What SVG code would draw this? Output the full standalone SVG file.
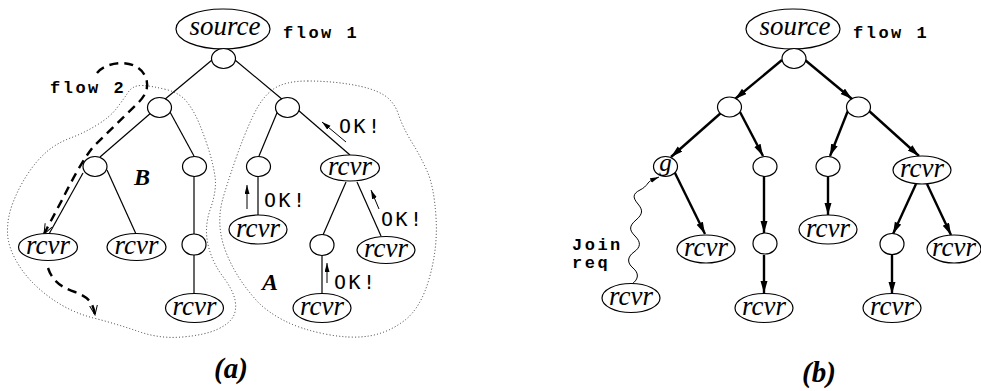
<svg xmlns="http://www.w3.org/2000/svg" width="981" height="391" viewBox="0 0 981 391">
  <style>
    .edge { stroke: #000; stroke-width: 1.2; fill: none; }
    .flow { stroke: #000; stroke-width: 2.4; fill: none; marker-end: url(#tipB); }
    .ok { stroke: #000; stroke-width: 1; fill: none; marker-end: url(#tipOk); }
    .region { stroke: #333; stroke-width: 1; stroke-dasharray: 1 2.2; fill: none; }
    .path2 { stroke: #000; stroke-width: 2.4; stroke-dasharray: 9 6; fill: none; }
    .wave { stroke: #000; stroke-width: 1; fill: none; marker-end: url(#tipOk); }
    .node { fill: #fff; stroke: #000; stroke-width: 1.2; }
    .it { font-family: "Liberation Serif", "Times New Roman", "DejaVu Serif", serif; font-style: italic; font-size: 27px; text-anchor: middle; fill: #000; }
    .mono { font-family: "Liberation Mono", "Courier New", monospace; font-weight: bold; font-size: 17px; letter-spacing: 2.5px; fill: #000; }
    .oktxt { font-family: "DejaVu Sans Mono", monospace; font-size: 20px; letter-spacing: 2.5px; fill: #000; }
    .big { font-family: "Liberation Serif", "Times New Roman", "DejaVu Serif", serif; font-style: italic; font-weight: bold; font-size: 24px; fill: #000; }
    .cap { font-size: 29px; text-anchor: middle; }
  </style>
  <defs>
    <marker id="tipB" markerUnits="userSpaceOnUse" markerWidth="13" markerHeight="8" refX="12" refY="3.5" orient="auto">
      <path d="M0,0 L12,3.5 L0,7 Z" fill="#000"/>
    </marker>
    <marker id="tipOk" markerUnits="userSpaceOnUse" markerWidth="10" markerHeight="6" refX="9" refY="2.5" orient="auto">
      <path d="M0,0 L9,2.5 L0,5 Z" fill="#000"/>
    </marker>
    <marker id="tipDash" markerUnits="userSpaceOnUse" markerWidth="11" markerHeight="9" refX="10" refY="4" orient="auto">
      <path d="M0,0 L10,4 L0,8" fill="none" stroke="#000" stroke-width="1"/>
    </marker>
  </defs>

  <!-- (a): regions A and B -->
  <g id="regions">
    <path class="region" d="M307.5,81 Q330,81 351,84.5 Q372,88 383,94.5 Q394,101 398.5,114.5 Q403,128 412,142.5 Q421,157 427.5,172 Q434,187 436,217 Q438,247 429.5,277.5 Q421,308 404.5,320.5 Q388,333 369,336 Q350,339 325,334 Q300,329 283,320 Q266,311 256.5,300.5 Q247,290 239.5,278.5 Q232,267 226.5,253.5 Q221,240 220,226.5 Q219,213 222.5,200 Q226,187 235,161 Q244,135 253,116 Q262,97 273.5,89 Q285,81 307.5,81 Z"/>
    <path class="region" d="M142.5,85.5 Q152,86 166,89.5 Q180,93 187,102 Q194,111 199,123 Q204,135 208.5,149 Q213,163 215,176.5 Q217,190 210.5,208.5 Q204,227 208,244.5 Q212,262 222.5,276 Q233,290 235,300 Q237,310 233,317 Q229,324 217,329.5 Q205,335 182.5,337 Q160,339 138.5,331.5 Q117,324 93.5,318 Q70,312 50,297.5 Q30,283 19,265.5 Q8,248 7.5,233 Q7,218 13,202.5 Q19,187 28,173.5 Q37,160 47,151.5 Q57,143 70.5,138 Q84,133 97,125 Q110,117 116.5,108.5 Q123,100 128,92.5 Q133,85 142.5,85.5 Z"/>
  </g>

  <!-- connectors -->
  <g id="connectors">
    <!-- tree (a) -->
    <line class="edge" x1="212" y1="60" x2="164" y2="100"/>
    <line class="edge" x1="235" y1="60" x2="283" y2="100"/>
    <line class="edge" x1="152" y1="112" x2="100" y2="157"/>
    <line class="edge" x1="170" y1="112" x2="194" y2="156"/>
    <line class="edge" x1="279" y1="108" x2="259" y2="156"/>
    <line class="edge" x1="298" y1="110" x2="350" y2="155"/>
    <line class="edge" x1="83" y1="173" x2="49" y2="234"/>
    <line class="edge" x1="107" y1="170" x2="136" y2="234"/>
    <line class="edge" x1="194" y1="176" x2="194" y2="234"/>
    <line class="edge" x1="194" y1="255" x2="194" y2="294"/>
    <line class="edge" x1="258" y1="176" x2="258" y2="215"/>
    <line class="edge" x1="346" y1="182" x2="323" y2="235"/>
    <line class="edge" x1="357" y1="182" x2="381" y2="236"/>
    <line class="edge" x1="322" y1="255" x2="322" y2="294"/>

    <!-- OK! acknowledgements -->
    <line class="ok" x1="346" y1="142" x2="322" y2="122"/>
    <line class="ok" x1="247" y1="209" x2="247" y2="185"/>
    <line class="ok" x1="379" y1="209" x2="371" y2="190"/>
    <line class="ok" x1="327" y1="283" x2="327" y2="263"/>

    <!-- flow 2 -->
    <path class="path2" marker-end="url(#tipDash)" d="M97,73 C106,61 138,57 146,78 C150,90 143,98 137,104 L93,147 C84,158 72,180 62,200 L44,234"/>
    <path class="path2" marker-end="url(#tipDash)" d="M48,268 C52,280 60,287 75,292 C88,297 93,302 95,315"/>

    <!-- tree (b) -->
    <line class="flow" x1="782" y1="60" x2="735" y2="99"/>
    <line class="flow" x1="805" y1="60" x2="852" y2="99"/>
    <line class="flow" x1="722" y1="112" x2="671" y2="157"/>
    <line class="flow" x1="740" y1="112" x2="763" y2="156"/>
    <line class="flow" x1="849" y1="108" x2="830" y2="156"/>
    <line class="flow" x1="868" y1="110" x2="919" y2="156"/>
    <line class="flow" x1="674" y1="171" x2="705" y2="234"/>
    <line class="flow" x1="764" y1="176" x2="764" y2="233"/>
    <line class="flow" x1="764" y1="255" x2="764" y2="293"/>
    <line class="flow" x1="828" y1="176" x2="828" y2="215"/>
    <line class="flow" x1="916" y1="184" x2="893" y2="234"/>
    <line class="flow" x1="927" y1="184" x2="951" y2="235"/>
    <line class="flow" x1="892" y1="255" x2="892" y2="294"/>

    <!-- join request -->
    <path class="wave" d="M632,284 C639,279 639,273 633,268 S627,257 634,252 S641,242 635,236 S629,226 636,220 S643,210 638,204 S632,194 640,190 S647,182 652,180 L659,177"/>
  </g>

  <!-- nodes (a) -->
  <g id="a-source"><ellipse class="node" cx="223" cy="29" rx="47" ry="20"/><text class="it" x="225" y="35">source</text></g>
  <g id="a-n0"><ellipse class="node" cx="223.5" cy="58.5" rx="12" ry="10"/></g>
  <g id="a-n1"><ellipse class="node" cx="159.5" cy="107.5" rx="12" ry="10"/></g>
  <g id="a-n2"><ellipse class="node" cx="287.5" cy="107.5" rx="12" ry="10"/></g>
  <g id="a-n3"><ellipse class="node" cx="95" cy="166.5" rx="12" ry="10"/></g>
  <g id="a-n4"><ellipse class="node" cx="194.5" cy="166.5" rx="12" ry="10"/></g>
  <g id="a-n5"><ellipse class="node" cx="258.5" cy="166.5" rx="12" ry="10"/></g>
  <g id="a-r1"><ellipse class="node" cx="350" cy="168" rx="29.5" ry="13"/><text class="it" x="350" y="175">rcvr</text></g>
  <g id="a-r2"><ellipse class="node" cx="48" cy="247" rx="29.5" ry="13.5"/><text class="it" x="48" y="254">rcvr</text></g>
  <g id="a-r3"><ellipse class="node" cx="136.5" cy="247" rx="29.5" ry="13.5"/><text class="it" x="136.5" y="254">rcvr</text></g>
  <g id="a-n6"><ellipse class="node" cx="194" cy="244.5" rx="12" ry="10.5"/></g>
  <g id="a-r4"><ellipse class="node" cx="194.5" cy="308" rx="29" ry="14.5"/><text class="it" x="194.5" y="315">rcvr</text></g>
  <g id="a-r5"><ellipse class="node" cx="258" cy="229.5" rx="29" ry="14.5"/><text class="it" x="258" y="236.5">rcvr</text></g>
  <g id="a-n7"><ellipse class="node" cx="322" cy="245" rx="12" ry="10.5"/></g>
  <g id="a-r6"><ellipse class="node" cx="386" cy="250" rx="29" ry="13.5"/><text class="it" x="386" y="257">rcvr</text></g>
  <g id="a-r7"><ellipse class="node" cx="322" cy="308" rx="29" ry="14.5"/><text class="it" x="322" y="315">rcvr</text></g>

  <!-- nodes (b) -->
  <g id="b-source"><ellipse class="node" cx="793" cy="29" rx="47" ry="20"/><text class="it" x="795" y="35">source</text></g>
  <g id="b-n0"><ellipse class="node" cx="794" cy="58.5" rx="12" ry="10"/></g>
  <g id="b-n1"><ellipse class="node" cx="729.5" cy="107" rx="12" ry="10"/></g>
  <g id="b-n2"><ellipse class="node" cx="858.5" cy="107" rx="12" ry="10"/></g>
  <g id="b-g"><ellipse class="node" cx="665.5" cy="166.5" rx="12" ry="10"/><text class="it" x="665.5" y="171" style="font-size:25px">g</text></g>
  <g id="b-n3"><ellipse class="node" cx="765" cy="166.5" rx="12" ry="10"/></g>
  <g id="b-n4"><ellipse class="node" cx="828" cy="166.5" rx="12" ry="10"/></g>
  <g id="b-r1"><ellipse class="node" cx="922" cy="170" rx="29" ry="14"/><text class="it" x="922" y="177">rcvr</text></g>
  <g id="b-r2"><ellipse class="node" cx="706" cy="249" rx="29" ry="14"/><text class="it" x="706" y="256">rcvr</text></g>
  <g id="b-n5"><ellipse class="node" cx="765" cy="243.5" rx="12" ry="10.5"/></g>
  <g id="b-r3"><ellipse class="node" cx="764" cy="308" rx="29" ry="14.5"/><text class="it" x="764" y="315">rcvr</text></g>
  <g id="b-r4"><ellipse class="node" cx="828" cy="229.5" rx="29" ry="14.5"/><text class="it" x="828" y="236.5">rcvr</text></g>
  <g id="b-n6"><ellipse class="node" cx="892" cy="244" rx="12" ry="10.5"/></g>
  <g id="b-r5"><ellipse class="node" cx="954" cy="249" rx="27" ry="14"/><text class="it" x="954" y="256">rcvr</text></g>
  <g id="b-r6"><ellipse class="node" cx="892" cy="308" rx="29" ry="14.5"/><text class="it" x="892" y="315">rcvr</text></g>
  <g id="b-join"><ellipse class="node" cx="631" cy="298" rx="29" ry="14.5"/><text class="it" x="631" y="305">rcvr</text></g>

  <!-- labels -->
  <g id="labels">
    <text class="mono" x="283" y="38">flow 1</text>
    <text class="mono" x="853" y="38">flow 1</text>
    <text class="mono" x="50" y="93">flow 2</text>
    <text class="mono" x="572" y="250">Join</text>
    <text class="mono" x="572" y="268">req</text>
    <text class="oktxt" x="339" y="133">OK!</text>
    <text class="oktxt" x="264" y="207">OK!</text>
    <text class="oktxt" x="381" y="226">OK!</text>
    <text class="oktxt" x="334" y="289">OK!</text>
    <text class="big" x="134" y="185">B</text>
    <text class="big" x="262" y="290">A</text>
    <text class="big cap" x="231" y="378">(a)</text>
    <text class="big cap" x="819" y="382">(b)</text>
  </g>
</svg>
